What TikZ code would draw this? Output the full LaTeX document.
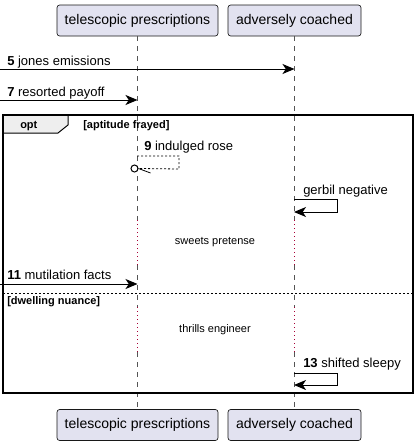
\documentclass[tikz,border=0pt]{standalone}
\usepackage{fontspec}
\setmainfont{Liberation Sans}
\usetikzlibrary{arrows.meta}
\definecolor{partfill}{HTML}{E2E2F0}
\definecolor{partline}{HTML}{181818}
\definecolor{lifegray}{HTML}{555555}
\definecolor{delayred}{HTML}{A80036}
\definecolor{tabfill}{HTML}{EEEEEE}

\begin{document}
\begin{tikzpicture}[x=0.75pt,y=-0.75pt,
  part/.style={draw=partline,fill=partfill,rounded corners=2pt,line width=0.5pt,minimum height=23.25pt,inner sep=0pt,font=\fontsize{10.5}{12}\selectfont},
  life/.style={draw=lifegray,dash pattern=on 3.75pt off 3.75pt,line width=0.5pt},
  delayline/.style={draw=delayred,dash pattern=on 0.75pt off 2.25pt,line width=0.75pt},
  msg/.style={-{Stealth[length=9pt,width=7.5pt,inset=2.5pt]},line width=0.75pt},
  retmsg/.style={dash pattern=on 1.5pt off 1.5pt,line width=0.6pt},
  lbl/.style={anchor=base west,inner sep=0pt,font=\fontsize{9.75}{11}\selectfont},
  delaytxt/.style={inner sep=0pt,font=\fontsize{8.25}{10}\selectfont},
  frametxt/.style={anchor=base west,inner sep=0pt,font=\bfseries\fontsize{8.25}{10}\selectfont}]
\useasboundingbox (0,0) rectangle (417,446);

% participants
\node[part,minimum width=120.75pt] (tpTop) at (137.5,20.5) {telescopic prescriptions};
\node[part,minimum width=99.75pt] (acTop) at (294.5,20.5) {adversely coached};
\node[part,minimum width=120.75pt] (tpBot) at (137.5,425) {telescopic prescriptions};
\node[part,minimum width=99.75pt] (acBot) at (294.5,425) {adversely coached};

% delays
\coordinate (d1a) at (0,220);
\coordinate (d1b) at (0,265);
\coordinate (d2a) at (0,307);
\coordinate (d2b) at (0,352);

% lifelines
\draw[life] (tpTop.south) -- (tpTop.south |- d1a);
\draw[delayline] (tpTop.south |- d1a) -- (tpTop.south |- d1b);
\draw[life] (tpTop.south |- d1b) -- (tpTop.south |- d2a);
\draw[delayline] (tpTop.south |- d2a) -- (tpTop.south |- d2b);
\draw[life] (tpTop.south |- d2b) -- (tpBot.north);
\draw[life] (acTop.south) -- (acTop.south |- d1a);
\draw[delayline] (acTop.south |- d1a) -- (acTop.south |- d1b);
\draw[life] (acTop.south |- d1b) -- (acTop.south |- d2a);
\draw[delayline] (acTop.south |- d2a) -- (acTop.south |- d2b);
\draw[life] (acTop.south |- d2b) -- (acBot.north);

% messages before the frame
\coordinate (m5) at (0,69);
\draw[msg] (m5) -- (acTop.south |- m5);
\node[lbl] (l5) at (7,65) {\textbf{5} jones emissions};
\coordinate (m7) at (0,100);
\draw[msg] (m7) -- (tpTop.south |- m7);
\node[lbl] (l7) at (7,96) {\textbf{7} resorted payoff};

% opt frame
\draw[fill=tabfill,line width=0.75pt] (3,115) -- (68,115) -- (68,125) -- (58,133) -- (3,133) -- cycle;
\draw[line width=1.5pt] (3,115) rectangle (413,393);
\node[frametxt] (fopt) at (20,128.5) {opt};
\node[frametxt] (fcond) at (83,128.5) {[aptitude frayed]};
\draw[dash pattern=on 1.5pt off 1.5pt,line width=0.75pt] (3,293.5) -- (413,293.5);
\node[frametxt] (felse) at (7,304) {[dwelling nuance]};

% 9
\coordinate (m9a) at (137,156);
\coordinate (m9b) at (179,169);
\node[circle,draw,line width=0.75pt,minimum size=5.25pt,inner sep=0pt] (c9) at (134.5,168.5) {};
\draw[retmsg] (m9a) -- (m9a -| m9b) -- (m9b) -- (c9.east);
\draw[line width=0.6pt] (c9.east) -- ++(12,4.5);
\node[lbl] (l9) at (144,150) {\textbf{9} indulged rose};

% gerbil negative
\coordinate (gnA) at (294,199);
\coordinate (gnB) at (294,212);
\draw[msg] (gnA) -- ++(43,0) |- (gnB);
\node[lbl] (lgn) at (303,194) {gerbil negative};

\node[delaytxt] (dl1) at (215,242) {sweets pretense};

% 11
\coordinate (m11) at (0,284);
\draw[msg] (m11) -- (tpTop.south |- m11);
\node[lbl] (l11) at (7,279) {\textbf{11} mutilation facts};

\node[delaytxt] (dl2) at (215,330) {thrills engineer};

% 13
\coordinate (m13a) at (294,373);
\coordinate (m13b) at (294,385);
\draw[msg] (m13a) -- ++(43,0) |- (m13b);
\node[lbl] (l13) at (303,367) {\textbf{13} shifted sleepy};
\end{tikzpicture}
\end{document}
